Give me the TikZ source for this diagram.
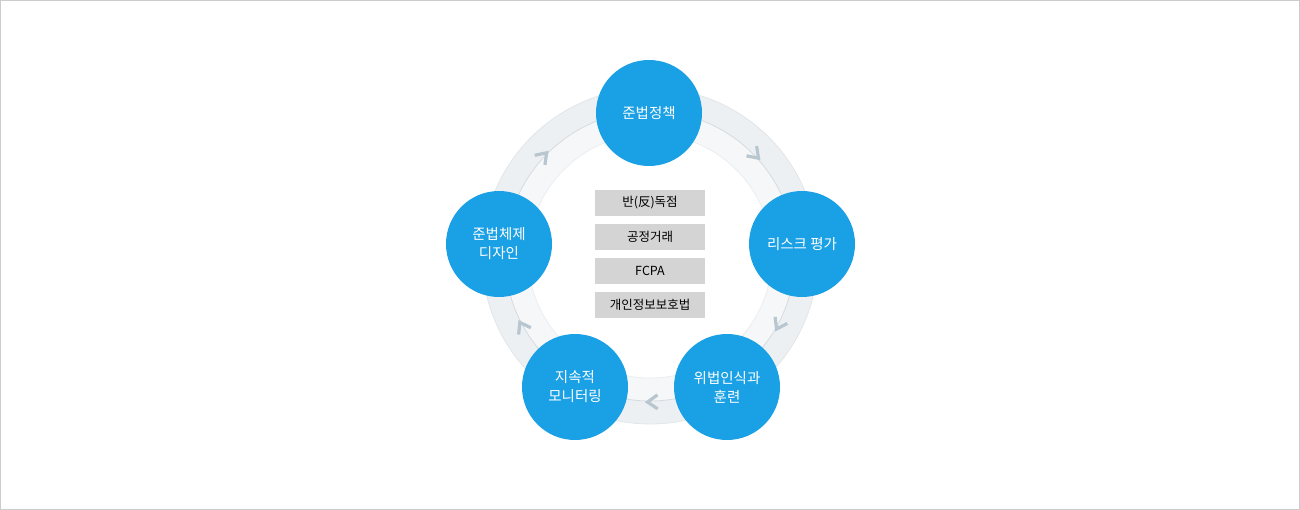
\documentclass[tikz,border=0pt]{standalone}
\usepackage{fontspec}
\setmainfont{Noto Sans CJK KR}
\definecolor{stageblue}{RGB}{26,160,228}
\definecolor{topicgray}{RGB}{212,212,212}
\definecolor{ringout}{RGB}{237,240,243}
\definecolor{ringin}{RGB}{246,247,249}
\definecolor{ringline}{RGB}{214,219,224}
\definecolor{chevgray}{RGB}{184,198,208}
\begin{document}
\begin{tikzpicture}[x=1pt, y=1pt,
    stage/.style={circle, fill=stageblue, minimum size=106pt, inner sep=0pt,
        text=white, align=center, font=\fontsize{14.5}{19}\selectfont},
    topic/.style={fill=topicgray, minimum width=110pt, minimum height=26pt,
        inner sep=0pt, text=black, font=\fontsize{12.5}{14}\selectfont},
    chev/.style={draw=chevgray, line width=3.2pt}]
        % Frame
        \useasboundingbox (0,0) rectangle (1300,-510);
        \draw[black!20, line width=1pt] (0.5,-0.5) rectangle (1299.5,-509.5);
        
        % Ring
        \coordinate (hub) at (650,-256);
        \fill[ringout] (hub) circle (168);
        \fill[ringin] (hub) circle (145);
        \fill[white] (hub) circle (122);
        \draw[ringline!70, line width=0.8pt] (hub) circle (168);
        \draw[ringline, line width=0.8pt] (hub) circle (145);
        \draw[ringline!50, line width=0.8pt] (hub) circle (122);
        
        % Chevrons
        \draw[chev, shift={(hub)}, rotate=44] (139,5) -- (146,-5) -- (153,5);
        \draw[chev, shift={(hub)}, rotate=-28] (139,5) -- (146,-5) -- (153,5);
        \draw[chev, shift={(hub)}, rotate=-89] (139,5) -- (146,-5) -- (153,5);
        \draw[chev, shift={(hub)}, rotate=209] (139,5) -- (146,-5) -- (153,5);
        \draw[chev, shift={(hub)}, rotate=137] (139,5) -- (146,-5) -- (153,5);
        
        % Stages
        \node[stage] (policy) at (649,-113) {준법정책};
        \node[stage] (risk) at (802,-244) {리스크 평가};
        \node[stage] (training) at (727,-387) {위법인식과\\훈련};
        \node[stage] (monitor) at (575,-387) {지속적\\모니터링};
        \node[stage] (design) at (499,-244) {준법체제\\디자인};
        
        % Topics
        \node[topic] (antitrust) at (650,-203) {반(反)독점};
        \node[topic] (fairtrade) at (650,-237) {공정거래};
        \node[topic] (fcpa) at (650,-271) {FCPA};
        \node[topic] (privacy) at (650,-305) {개인정보보호법};
    \end{tikzpicture}
\end{document}
